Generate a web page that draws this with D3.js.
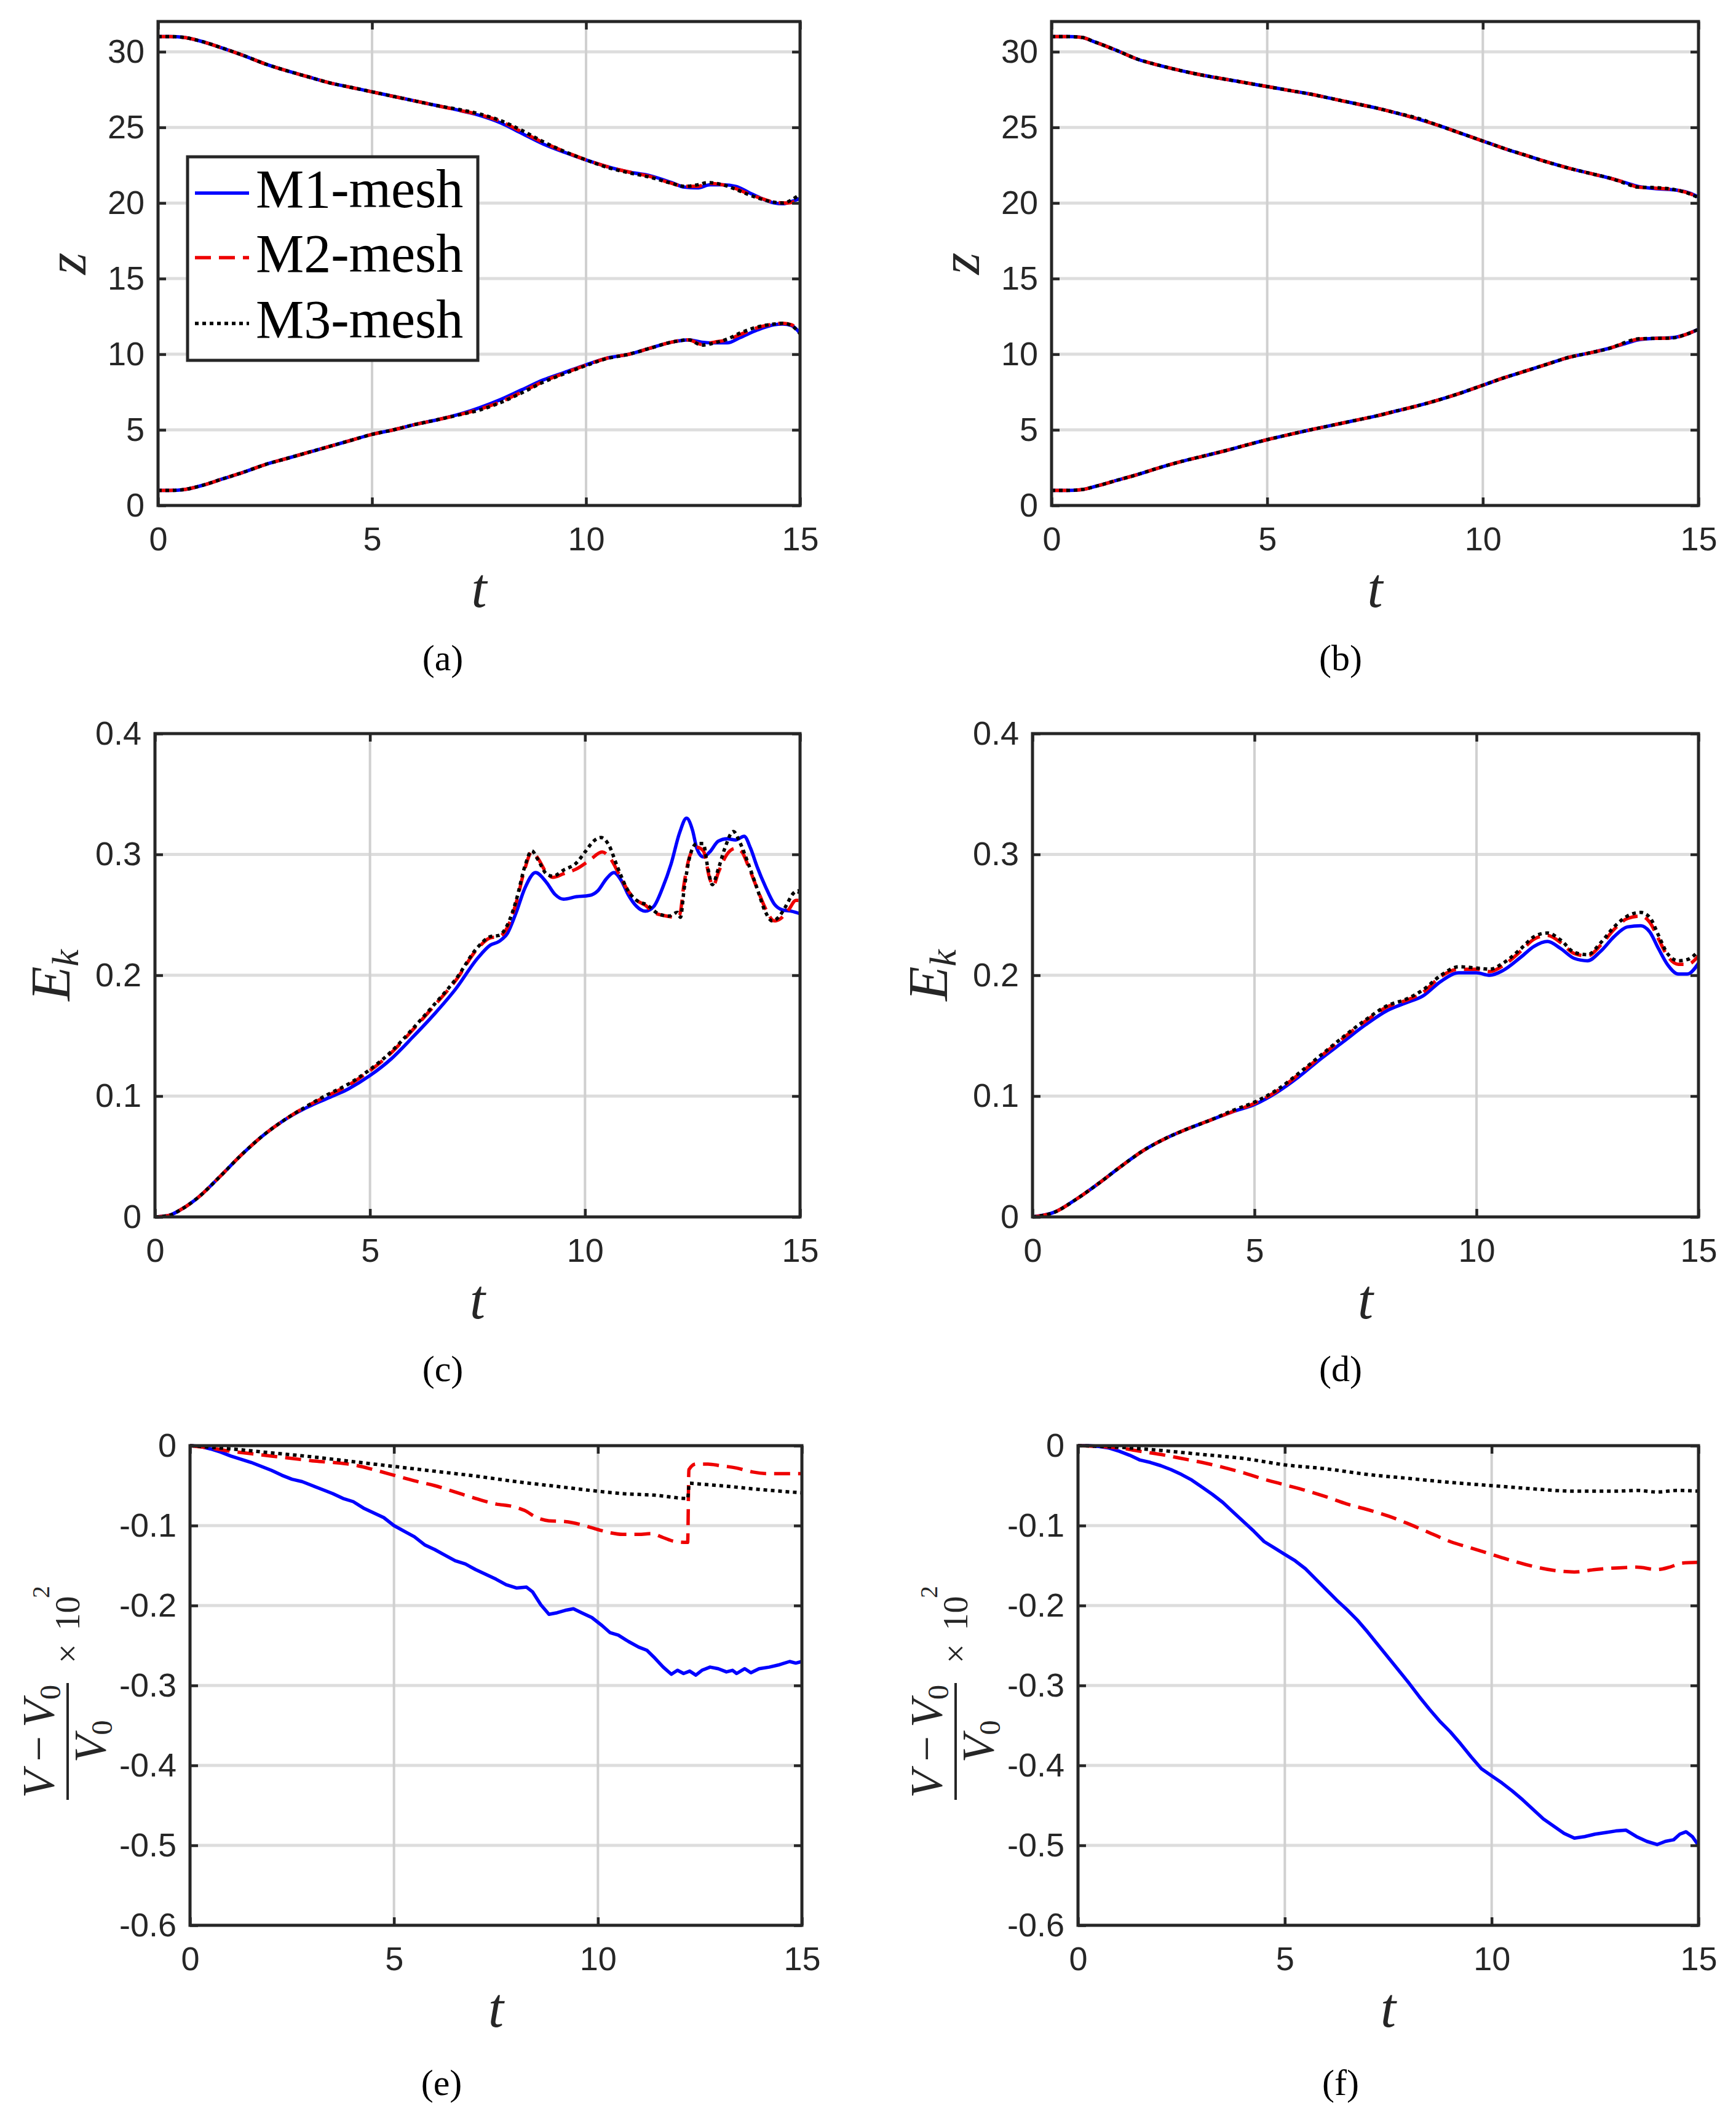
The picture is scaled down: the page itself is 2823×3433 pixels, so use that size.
<!DOCTYPE html>
<html><head><meta charset="utf-8">
<script src="https://cdn.jsdelivr.net/npm/d3@7"></script>
<style>body{margin:0;background:#fff}svg{display:block}</style>
</head><body>
<svg id="fig" width="2823" height="3433"></svg>
<script>
// ---------------- DATA ----------------
const xTicks = [0, 5, 10, 15];
const zTicks = [0, 5, 10, 15, 20, 25, 30];
const ekTicks = [0, 0.1, 0.2, 0.3, 0.4];
const dvTicks = [0, -0.1, -0.2, -0.3, -0.4, -0.5, -0.6];
const seriesNames = ["M1-mesh", "M2-mesh", "M3-mesh"];
const captions = ["(a)", "(b)", "(c)", "(d)", "(e)", "(f)"];

// (a) z, upper and lower bodies
const aUpM1 = [[0,31],[0.3,31],[0.6,30.95],[1,30.7],[1.5,30.25],[2,29.75],[2.5,29.2],[3,28.75],[3.5,28.35],[4,27.95],[4.5,27.65],[5,27.35],[5.5,27.05],[6,26.75],[6.5,26.45],[7,26.15],[7.5,25.8],[8,25.3],[8.5,24.6],[9,23.9],[9.5,23.35],[10,22.85],[10.5,22.4],[11,22.05],[11.5,21.8],[12,21.35],[12.3,21.05],[12.6,21.0],[12.9,21.2],[13.2,21.2],[13.5,21.1],[13.8,20.7],[14.1,20.3],[14.4,20.0],[14.6,19.95],[14.8,20.1],[15,20.3]];
const aUpM2 = [[0,31],[0.3,31],[0.6,30.95],[1,30.7],[1.5,30.25],[2,29.75],[2.5,29.2],[3,28.75],[3.5,28.35],[4,27.95],[4.5,27.65],[5,27.35],[5.5,27.05],[6,26.75],[6.5,26.45],[7,26.15],[7.5,25.85],[8,25.4],[8.5,24.7],[9,24.0],[9.5,23.4],[10,22.85],[10.5,22.4],[11,22.05],[11.5,21.75],[12,21.3],[12.3,21.1],[12.6,21.1],[12.9,21.3],[13.2,21.2],[13.5,20.95],[13.8,20.6],[14.1,20.3],[14.4,20.05],[14.7,20.0],[15,20.25]];
const aUpM3 = [[0,31],[0.3,31],[0.6,30.95],[1,30.7],[1.5,30.25],[2,29.75],[2.5,29.2],[3,28.75],[3.5,28.35],[4,27.95],[4.5,27.65],[5,27.35],[5.5,27.05],[6,26.75],[6.5,26.45],[7,26.2],[7.5,25.9],[8,25.45],[8.5,24.8],[9,24.05],[9.5,23.4],[10,22.85],[10.5,22.35],[11,22.0],[11.5,21.7],[12,21.3],[12.3,21.1],[12.6,21.2],[12.85,21.35],[13.2,21.2],[13.5,20.9],[13.8,20.55],[14.1,20.25],[14.4,20.05],[14.6,20.0],[14.8,20.2],[15,20.6]];
const aLoM1 = [[0,1],[0.3,1],[0.6,1.05],[1,1.3],[1.5,1.75],[2,2.2],[2.5,2.7],[3,3.1],[3.5,3.5],[4,3.9],[4.5,4.3],[5,4.7],[5.5,5.0],[6,5.35],[6.5,5.65],[7,6.0],[7.5,6.45],[8,7.0],[8.5,7.65],[9,8.3],[9.5,8.8],[10,9.3],[10.5,9.75],[11,10.0],[11.5,10.4],[12,10.8],[12.4,10.95],[12.7,10.8],[13,10.75],[13.3,10.75],[13.6,11.1],[14,11.6],[14.4,11.95],[14.6,12.0],[14.8,11.9],[15,11.4]];
const aLoM2 = [[0,1],[0.3,1],[0.6,1.05],[1,1.3],[1.5,1.75],[2,2.2],[2.5,2.7],[3,3.1],[3.5,3.5],[4,3.9],[4.5,4.3],[5,4.7],[5.5,5.0],[6,5.35],[6.5,5.65],[7,5.98],[7.5,6.35],[8,6.85],[8.5,7.5],[9,8.2],[9.5,8.75],[10,9.28],[10.5,9.75],[11,10.0],[11.5,10.4],[12,10.8],[12.4,10.95],[12.7,10.65],[13,10.8],[13.3,10.95],[13.6,11.3],[14,11.75],[14.4,12.0],[14.6,12.05],[14.8,11.95],[15,11.45]];
const aLoM3 = [[0,1],[0.3,1],[0.6,1.05],[1,1.3],[1.5,1.75],[2,2.2],[2.5,2.7],[3,3.1],[3.5,3.5],[4,3.9],[4.5,4.3],[5,4.7],[5.5,5.0],[6,5.35],[6.5,5.65],[7,5.97],[7.5,6.3],[8,6.8],[8.5,7.45],[9,8.15],[9.5,8.72],[10,9.25],[10.5,9.72],[11,10.0],[11.5,10.4],[12,10.8],[12.4,10.95],[12.7,10.6],[13,10.75],[13.3,11.0],[13.6,11.4],[14,11.8],[14.4,12.0],[14.6,12.05],[14.8,11.9],[15,11.35]];

// (b) z
const bUpM1 = [[0,31],[0.4,31],[0.7,30.95],[1,30.65],[1.5,30.1],[2,29.5],[2.5,29.1],[3,28.75],[3.5,28.45],[4,28.2],[4.5,27.95],[5,27.7],[5.5,27.45],[6,27.2],[6.5,26.9],[7,26.6],[7.5,26.3],[8,25.95],[8.5,25.55],[9,25.1],[9.5,24.6],[10,24.1],[10.5,23.6],[11,23.15],[11.5,22.7],[12,22.3],[12.5,21.95],[13,21.6],[13.3,21.35],[13.6,21.1],[14,20.95],[14.5,20.85],[14.8,20.65],[15,20.4]];
const bUpM2 = [[0,31],[0.4,31],[0.7,30.95],[1,30.65],[1.5,30.1],[2,29.5],[2.5,29.1],[3,28.75],[3.5,28.45],[4,28.2],[4.5,27.95],[5,27.7],[5.5,27.45],[6,27.2],[6.5,26.9],[7,26.6],[7.5,26.3],[8,25.95],[8.5,25.55],[9,25.1],[9.5,24.6],[10,24.1],[10.5,23.6],[11,23.15],[11.5,22.7],[12,22.3],[12.5,21.95],[13,21.6],[13.3,21.35],[13.6,21.05],[14,20.98],[14.5,20.85],[14.8,20.62],[15,20.35]];
const bUpM3 = [[0,31],[0.4,31],[0.7,30.95],[1,30.65],[1.5,30.1],[2,29.5],[2.5,29.1],[3,28.75],[3.5,28.45],[4,28.2],[4.5,27.95],[5,27.7],[5.5,27.45],[6,27.2],[6.5,26.9],[7,26.6],[7.5,26.3],[8,25.95],[8.5,25.6],[9,25.1],[9.5,24.6],[10,24.1],[10.5,23.6],[11,23.15],[11.5,22.7],[12,22.3],[12.5,21.95],[13,21.6],[13.3,21.3],[13.6,21.05],[14,21.02],[14.5,20.85],[14.8,20.6],[15,20.35]];
const bLoM1 = [[0,1],[0.4,1],[0.7,1.05],[1,1.25],[1.5,1.65],[2,2.05],[2.5,2.5],[3,2.9],[3.5,3.25],[4,3.6],[4.5,3.98],[5,4.35],[5.5,4.68],[6,5.0],[6.5,5.3],[7,5.6],[7.5,5.9],[8,6.25],[8.5,6.6],[9,7.0],[9.5,7.45],[10,7.95],[10.5,8.45],[11,8.9],[11.5,9.35],[12,9.8],[12.5,10.1],[13,10.45],[13.3,10.7],[13.6,10.95],[14,11.05],[14.4,11.1],[14.7,11.3],[15,11.65]];
const bLoM2 = [[0,1],[0.4,1],[0.7,1.05],[1,1.25],[1.5,1.65],[2,2.05],[2.5,2.5],[3,2.9],[3.5,3.25],[4,3.6],[4.5,3.98],[5,4.35],[5.5,4.68],[6,5.0],[6.5,5.3],[7,5.6],[7.5,5.9],[8,6.25],[8.5,6.6],[9,7.0],[9.5,7.45],[10,7.95],[10.5,8.45],[11,8.9],[11.5,9.35],[12,9.8],[12.5,10.1],[13,10.45],[13.3,10.75],[13.6,11.0],[14,11.05],[14.4,11.08],[14.7,11.3],[15,11.65]];
const bLoM3 = [[0,1],[0.4,1],[0.7,1.05],[1,1.25],[1.5,1.65],[2,2.05],[2.5,2.5],[3,2.9],[3.5,3.25],[4,3.6],[4.5,3.98],[5,4.35],[5.5,4.68],[6,5.0],[6.5,5.3],[7,5.6],[7.5,5.9],[8,6.25],[8.5,6.6],[9,7.0],[9.5,7.45],[10,7.95],[10.5,8.45],[11,8.9],[11.5,9.35],[12,9.8],[12.5,10.1],[13,10.45],[13.3,10.78],[13.6,11.02],[14,11.05],[14.4,11.08],[14.7,11.3],[15,11.65]];

// (c) Ek
const cM1 = [[0,0],[0.3,0.001],[0.6,0.006],[1,0.016],[1.5,0.033],[2,0.051],[2.5,0.067],[3,0.08],[3.5,0.09],[4,0.098],[4.5,0.106],[5,0.117],[5.5,0.131],[6,0.149],[6.5,0.168],[7,0.189],[7.5,0.214],[7.8,0.225],[8,0.228],[8.2,0.235],[8.4,0.252],[8.6,0.272],[8.85,0.285],[9.1,0.277],[9.3,0.267],[9.5,0.263],[9.8,0.265],[10.1,0.266],[10.3,0.27],[10.5,0.28],[10.67,0.285],[10.85,0.278],[11,0.267],[11.2,0.257],[11.4,0.253],[11.6,0.257],[11.8,0.272],[12,0.292],[12.2,0.318],[12.36,0.33],[12.5,0.32],[12.6,0.305],[12.75,0.298],[12.9,0.302],[13.1,0.311],[13.3,0.313],[13.5,0.312],[13.7,0.315],[13.85,0.305],[14,0.29],[14.2,0.273],[14.4,0.259],[14.6,0.254],[14.8,0.253],[15,0.251]];
const cM2 = [[0,0],[0.3,0.001],[0.6,0.006],[1,0.016],[1.5,0.033],[2,0.051],[2.5,0.067],[3,0.08],[3.5,0.091],[4,0.1],[4.5,0.109],[5,0.121],[5.5,0.136],[6,0.155],[6.5,0.175],[7,0.196],[7.5,0.222],[7.8,0.231],[8,0.232],[8.2,0.24],[8.4,0.26],[8.6,0.288],[8.76,0.302],[8.9,0.297],[9.1,0.285],[9.25,0.281],[9.5,0.284],[9.8,0.288],[10.1,0.295],[10.4,0.302],[10.6,0.296],[10.8,0.283],[11,0.27],[11.2,0.262],[11.4,0.258],[11.6,0.252],[11.9,0.249],[12.1,0.248],[12.2,0.25],[12.3,0.275],[12.45,0.3],[12.6,0.306],[12.75,0.303],[12.9,0.28],[12.98,0.274],[13.1,0.285],[13.3,0.3],[13.5,0.305],[13.65,0.302],[13.8,0.29],[14,0.272],[14.2,0.255],[14.4,0.245],[14.55,0.247],[14.75,0.255],[14.9,0.262],[15,0.262]];
const cM3 = [[0,0],[0.3,0.001],[0.6,0.006],[1,0.016],[1.5,0.033],[2,0.051],[2.5,0.067],[3,0.08],[3.5,0.091],[4,0.101],[4.5,0.11],[5,0.122],[5.5,0.137],[6,0.156],[6.5,0.176],[7,0.197],[7.5,0.223],[7.8,0.232],[8,0.233],[8.2,0.242],[8.4,0.262],[8.6,0.29],[8.76,0.303],[8.9,0.296],[9.1,0.284],[9.25,0.282],[9.5,0.287],[9.8,0.293],[10,0.302],[10.2,0.311],[10.37,0.314],[10.55,0.308],[10.75,0.29],[11,0.27],[11.2,0.262],[11.45,0.258],[11.7,0.251],[11.95,0.249],[12.15,0.252],[12.22,0.248],[12.3,0.27],[12.45,0.3],[12.6,0.309],[12.75,0.309],[12.85,0.29],[12.96,0.275],[13.1,0.288],[13.25,0.305],[13.45,0.319],[13.6,0.31],[13.8,0.292],[14,0.272],[14.2,0.252],[14.35,0.245],[14.5,0.248],[14.65,0.256],[14.85,0.268],[14.95,0.27],[15,0.265]];

// (d) Ek
const dM1 = [[0,0],[0.5,0.004],[1,0.015],[1.5,0.028],[2,0.042],[2.5,0.055],[3,0.065],[3.5,0.073],[4,0.08],[4.5,0.087],[5,0.093],[5.5,0.103],[6,0.116],[6.5,0.131],[7,0.145],[7.5,0.159],[8,0.171],[8.4,0.177],[8.8,0.183],[9.2,0.195],[9.6,0.202],[10,0.202],[10.3,0.2],[10.6,0.204],[11,0.215],[11.3,0.224],[11.6,0.228],[11.9,0.222],[12.2,0.214],[12.5,0.212],[12.8,0.22],[13.1,0.232],[13.4,0.24],[13.7,0.241],[13.9,0.236],[14.1,0.222],[14.3,0.209],[14.55,0.201],[14.75,0.201],[15,0.21]];
const dM2 = [[0,0],[0.5,0.004],[1,0.015],[1.5,0.028],[2,0.042],[2.5,0.055],[3,0.065],[3.5,0.073],[4,0.08],[4.5,0.087],[5,0.094],[5.5,0.104],[6,0.118],[6.5,0.133],[7,0.148],[7.5,0.162],[8,0.174],[8.4,0.179],[8.8,0.186],[9.2,0.199],[9.6,0.205],[10,0.205],[10.3,0.203],[10.6,0.208],[11,0.22],[11.3,0.23],[11.6,0.233],[11.9,0.227],[12.2,0.218],[12.5,0.216],[12.8,0.225],[13.1,0.238],[13.4,0.247],[13.7,0.249],[13.9,0.244],[14.1,0.23],[14.3,0.216],[14.55,0.209],[14.75,0.209],[15,0.216]];
const dM3 = [[0,0],[0.5,0.004],[1,0.015],[1.5,0.028],[2,0.042],[2.5,0.055],[3,0.065],[3.5,0.073],[4,0.08],[4.5,0.088],[5,0.095],[5.5,0.105],[6,0.119],[6.5,0.134],[7,0.149],[7.5,0.163],[8,0.175],[8.4,0.18],[8.8,0.188],[9.2,0.2],[9.6,0.207],[10,0.206],[10.3,0.205],[10.6,0.21],[11,0.222],[11.3,0.232],[11.6,0.235],[11.9,0.229],[12.2,0.219],[12.5,0.217],[12.8,0.227],[13.1,0.24],[13.4,0.249],[13.7,0.252],[13.9,0.248],[14.1,0.233],[14.3,0.218],[14.55,0.212],[14.75,0.213],[15,0.22]];

// (e) volume change
const eM1 = [[0,0],[0.25,-0.001],[0.5,-0.004],[0.75,-0.008],[1,-0.013],[1.25,-0.017],[1.5,-0.021],[1.75,-0.026],[2,-0.031],[2.25,-0.037],[2.5,-0.042],[2.75,-0.045],[3,-0.05],[3.25,-0.055],[3.5,-0.06],[3.75,-0.066],[4,-0.07],[4.25,-0.078],[4.5,-0.084],[4.75,-0.09],[5,-0.1],[5.25,-0.107],[5.5,-0.114],[5.75,-0.124],[6,-0.13],[6.25,-0.137],[6.5,-0.144],[6.75,-0.148],[7,-0.155],[7.25,-0.161],[7.5,-0.167],[7.75,-0.174],[8,-0.178],[8.25,-0.177],[8.4,-0.183],[8.6,-0.199],[8.8,-0.211],[9,-0.209],[9.2,-0.206],[9.4,-0.204],[9.6,-0.209],[9.85,-0.215],[10.1,-0.225],[10.3,-0.234],[10.5,-0.237],[10.75,-0.245],[11,-0.252],[11.2,-0.256],[11.4,-0.266],[11.6,-0.277],[11.8,-0.286],[11.95,-0.281],[12.1,-0.285],[12.25,-0.282],[12.4,-0.287],[12.55,-0.281],[12.75,-0.277],[12.95,-0.279],[13.15,-0.283],[13.3,-0.281],[13.4,-0.285],[13.6,-0.279],[13.75,-0.284],[13.95,-0.279],[14.2,-0.277],[14.45,-0.274],[14.7,-0.27],[14.85,-0.272],[15,-0.27]];
const eM2 = [[0,0],[0.5,-0.003],[1,-0.007],[1.5,-0.01],[2,-0.013],[2.5,-0.016],[3,-0.019],[3.5,-0.021],[4,-0.024],[4.5,-0.03],[5,-0.037],[5.5,-0.044],[6,-0.05],[6.5,-0.058],[7,-0.066],[7.5,-0.073],[7.9,-0.076],[8.2,-0.081],[8.5,-0.09],[8.8,-0.094],[9.2,-0.095],[9.6,-0.099],[10,-0.105],[10.3,-0.109],[10.6,-0.111],[11,-0.111],[11.3,-0.11],[11.6,-0.115],[11.9,-0.12],[12.2,-0.121],[12.23,-0.03],[12.4,-0.023],[12.7,-0.023],[13,-0.025],[13.4,-0.028],[13.8,-0.033],[14.2,-0.035],[15,-0.035]];
const eM3 = [[0,0],[1,-0.004],[2,-0.009],[3,-0.014],[4,-0.02],[5,-0.026],[6,-0.032],[7,-0.038],[8,-0.045],[9,-0.051],[10,-0.057],[10.6,-0.06],[11.4,-0.062],[12.2,-0.066],[12.24,-0.047],[12.5,-0.048],[13,-0.05],[14,-0.055],[15,-0.059]];

// (f) volume change
const fM1 = [[0,0],[0.25,0],[0.5,-0.001],[0.75,-0.003],[1,-0.007],[1.25,-0.012],[1.5,-0.018],[1.75,-0.021],[2,-0.025],[2.25,-0.03],[2.5,-0.036],[2.75,-0.043],[3,-0.052],[3.25,-0.061],[3.5,-0.071],[3.75,-0.083],[4,-0.095],[4.25,-0.107],[4.5,-0.12],[4.75,-0.128],[5,-0.136],[5.25,-0.144],[5.5,-0.154],[5.75,-0.167],[6,-0.18],[6.25,-0.193],[6.5,-0.205],[6.75,-0.218],[7,-0.233],[7.25,-0.249],[7.5,-0.265],[7.75,-0.281],[8,-0.297],[8.25,-0.314],[8.5,-0.33],[8.75,-0.345],[9,-0.358],[9.25,-0.373],[9.5,-0.389],[9.75,-0.404],[10,-0.413],[10.25,-0.422],[10.5,-0.432],[10.75,-0.443],[11,-0.455],[11.25,-0.467],[11.5,-0.476],[11.75,-0.485],[12,-0.491],[12.25,-0.489],[12.5,-0.486],[12.75,-0.484],[13,-0.482],[13.25,-0.481],[13.5,-0.489],[13.75,-0.495],[14,-0.499],[14.2,-0.495],[14.4,-0.493],[14.55,-0.486],[14.7,-0.483],[14.85,-0.489],[15,-0.5]];
const fM2 = [[0,0],[0.5,-0.001],[1,-0.003],[1.5,-0.007],[2,-0.011],[2.5,-0.016],[3,-0.021],[3.5,-0.027],[4,-0.034],[4.5,-0.042],[5,-0.049],[5.5,-0.056],[6,-0.064],[6.5,-0.073],[7,-0.08],[7.5,-0.088],[8,-0.098],[8.5,-0.109],[9,-0.12],[9.5,-0.128],[10,-0.136],[10.5,-0.144],[11,-0.151],[11.5,-0.156],[12,-0.158],[12.5,-0.155],[13,-0.153],[13.5,-0.152],[14,-0.155],[14.3,-0.152],[14.6,-0.147],[15,-0.146]];
const fM3 = [[0,0],[1,-0.002],[2,-0.006],[3,-0.011],[4,-0.016],[5,-0.024],[6,-0.029],[7,-0.036],[8,-0.041],[9,-0.046],[10,-0.05],[11,-0.054],[12,-0.057],[13,-0.057],[13.5,-0.056],[14,-0.058],[14.5,-0.056],[15,-0.057]];

// ---------------- LAYOUT ----------------
const colors = ["#0000ff", "#ee0000", "#000000"];
const dashes = [null, "26,13", "6,6"];
const ink = "#262626";
const tickFont = "'Liberation Sans', Arial, Helvetica, sans-serif";
const serif = "'Liberation Serif', 'Times New Roman', serif";

const panels = [
  {box:[257,1301,35,822], yDom:[0,32], yTicks:zTicks, fmt:d=>String(d), series:[[aUpM1,aUpM2,aUpM3],[aLoM1,aLoM2,aLoM3]], ylab:"z", cap:[720,1090], legend:true},
  {box:[1710,2762,35,822], yDom:[0,32], yTicks:zTicks, fmt:d=>String(d), series:[[bUpM1,bUpM2,bUpM3],[bLoM1,bLoM2,bLoM3]], ylab:"z", cap:[2180,1090]},
  {box:[252,1301,1193,1979], yDom:[0,0.4], yTicks:ekTicks, fmt:d=>d===0?"0":d.toFixed(1), series:[[cM1,cM2,cM3]], ylab:"Ek", cap:[720,2246]},
  {box:[1679,2762,1193,1979], yDom:[0,0.4], yTicks:ekTicks, fmt:d=>d===0?"0":d.toFixed(1), series:[[dM1,dM2,dM3]], ylab:"Ek", cap:[2180,2246]},
  {box:[309,1304,2351,3131], yDom:[-0.6,0], yTicks:dvTicks, fmt:d=>d===0?"0":"-"+(-d).toFixed(1), series:[[eM1,eM2,eM3]], ylab:"dv", jag:true, cap:[718,3407]},
  {box:[1753,2762,2351,3131], yDom:[-0.6,0], yTicks:dvTicks, fmt:d=>d===0?"0":"-"+(-d).toFixed(1), series:[[fM1,fM2,fM3]], ylab:"dv", jag:true, cap:[2180,3407]}
];

const svg = d3.select("#fig");
svg.append("rect").attr("width",2823).attr("height",3433).attr("fill","#fff");

panels.forEach((p, pi) => {
  const [x0,x1,y0,y1] = p.box;
  const x = d3.scaleLinear().domain([0,15]).range([x0,x1]);
  const y = d3.scaleLinear().domain(p.yDom).range([y1,y0]);
  const g = svg.append("g");

  // grid
  g.append("g").selectAll("line").data(p.yTicks.filter(v=>v!==p.yDom[0]&&v!==p.yDom[1])).join("line")
    .attr("x1",x0).attr("x2",x1).attr("y1",d=>y(d)).attr("y2",d=>y(d))
    .attr("stroke","#dddddd").attr("stroke-width",5);
  g.append("g").selectAll("line").data(xTicks.slice(1,-1)).join("line")
    .attr("x1",d=>x(d)).attr("x2",d=>x(d)).attr("y1",y0).attr("y2",y1)
    .attr("stroke","#d0d0d0").attr("stroke-width",4);

  // data lines
  const lineSmooth = d3.line().x(d=>x(d[0])).y(d=>y(d[1])).curve(d3.curveMonotoneX);
  const lineJag = d3.line().x(d=>x(d[0])).y(d=>y(d[1])).curve(d3.curveLinear);
  p.series.forEach(group => {
    group.forEach((data, si) => {
      const gen = (p.jag && si===0) ? lineJag : lineSmooth;
      const path = g.append("path").attr("d", gen(data)).attr("fill","none")
        .attr("stroke", colors[si]).attr("stroke-width", 5.5)
        .attr("stroke-linejoin","round");
      if (dashes[si]) path.attr("stroke-dasharray", dashes[si]);
    });
  });

  // axes (ticks inward, on all four sides)
  const styleAxis = sel => {
    sel.select(".domain").remove();
    sel.selectAll(".tick line").attr("stroke",ink).attr("stroke-width",4.5);
    sel.selectAll(".tick text").attr("fill",ink).attr("font-family",tickFont).attr("font-size",54);
  };
  g.append("g").attr("transform",`translate(0,${y1})`)
    .call(d3.axisBottom(x).tickValues(xTicks).tickSize(-13).tickPadding(35).tickFormat(d=>String(d))).call(styleAxis);
  g.append("g").attr("transform",`translate(0,${y0})`)
    .call(d3.axisTop(x).tickValues(xTicks).tickSize(-13).tickFormat("")).call(styleAxis);
  g.append("g").attr("transform",`translate(${x0},0)`)
    .call(d3.axisLeft(y).tickValues(p.yTicks).tickSize(-13).tickPadding(22).tickFormat(p.fmt)).call(styleAxis);
  g.append("g").attr("transform",`translate(${x1},0)`)
    .call(d3.axisRight(y).tickValues(p.yTicks).tickSize(-13).tickFormat("")).call(styleAxis);
  g.selectAll(".tick text").attr("font-family",tickFont);

  g.append("rect").attr("x",x0).attr("y",y0).attr("width",x1-x0).attr("height",y1-y0)
    .attr("fill","none").attr("stroke",ink).attr("stroke-width",5);

  // x label
  g.append("text").attr("x",(x0+x1)/2).attr("y",y1+165).attr("text-anchor","middle")
    .attr("font-family",serif).attr("font-style","italic").attr("font-size",90).attr("fill",ink).text("t");

  // y label
  const cy = (y0+y1)/2;
  if (p.ylab === "z") {
    g.append("text").attr("transform",`translate(${x0-118},${cy}) rotate(-90)`).attr("text-anchor","middle")
      .attr("font-family",serif).attr("font-style","italic").attr("font-size",92).attr("fill",ink).text("z");
  } else if (p.ylab === "Ek") {
    const t = g.append("text").attr("transform",`translate(${x0-139},${cy}) rotate(-90)`).attr("text-anchor","middle")
      .attr("font-family",serif).attr("font-style","italic").attr("font-size",92).attr("fill",ink);
    t.append("tspan").text("E");
    t.append("tspan").attr("font-size",62).attr("dy",14).text("k");
  } else {
    const lg = g.append("g").attr("transform",`translate(${x0-199},${cy+8}) rotate(-90)`)
      .attr("font-family",serif).attr("fill",ink);
    const num = lg.append("text").attr("x",-83).attr("y",-22).attr("text-anchor","middle").attr("font-size",74);
    num.append("tspan").attr("font-style","italic").text("V");
    num.append("tspan").attr("dx",14).text("−");
    num.append("tspan").attr("dx",14).attr("font-style","italic").text("V");
    num.append("tspan").attr("font-size",48).attr("dy",10).text("0");
    lg.append("line").attr("x1",-178).attr("x2",12).attr("y1",0).attr("y2",0).attr("stroke",ink).attr("stroke-width",4);
    const den = lg.append("text").attr("x",-83).attr("y",62).attr("text-anchor","middle").attr("font-size",74);
    den.append("tspan").attr("font-style","italic").text("V");
    den.append("tspan").attr("font-size",48).attr("dy",10).text("0");
    const mul = lg.append("text").attr("x",44).attr("y",19).attr("font-size",56);
    mul.append("tspan").text("×");
    mul.append("tspan").attr("dx",22).text("10");
    lg.append("text").attr("x",150).attr("y",-30).attr("font-size",40).text("2");
  }

  // caption
  svg.append("text").attr("x",p.cap[0]).attr("y",p.cap[1]).attr("text-anchor","middle")
    .attr("font-family",serif).attr("font-size",60).attr("fill","#000").text(captions[pi]);

  // legend
  if (p.legend) {
    const lgd = g.append("g");
    lgd.append("rect").attr("x",305).attr("y",255).attr("width",472).attr("height",331)
      .attr("fill","#fff").attr("stroke",ink).attr("stroke-width",5);
    const rows = [314, 419, 526];
    seriesNames.forEach((name, i) => {
      const l = lgd.append("line").attr("x1",317).attr("x2",405).attr("y1",rows[i]).attr("y2",rows[i])
        .attr("stroke",colors[i]).attr("stroke-width",5.5);
      if (dashes[i]) l.attr("stroke-dasharray", dashes[i]);
      lgd.append("text").attr("x",416).attr("y",rows[i]+23).attr("font-family",serif)
        .attr("font-size",88).attr("fill","#000").text(name);
    });
  }
});
</script>
</body></html>
